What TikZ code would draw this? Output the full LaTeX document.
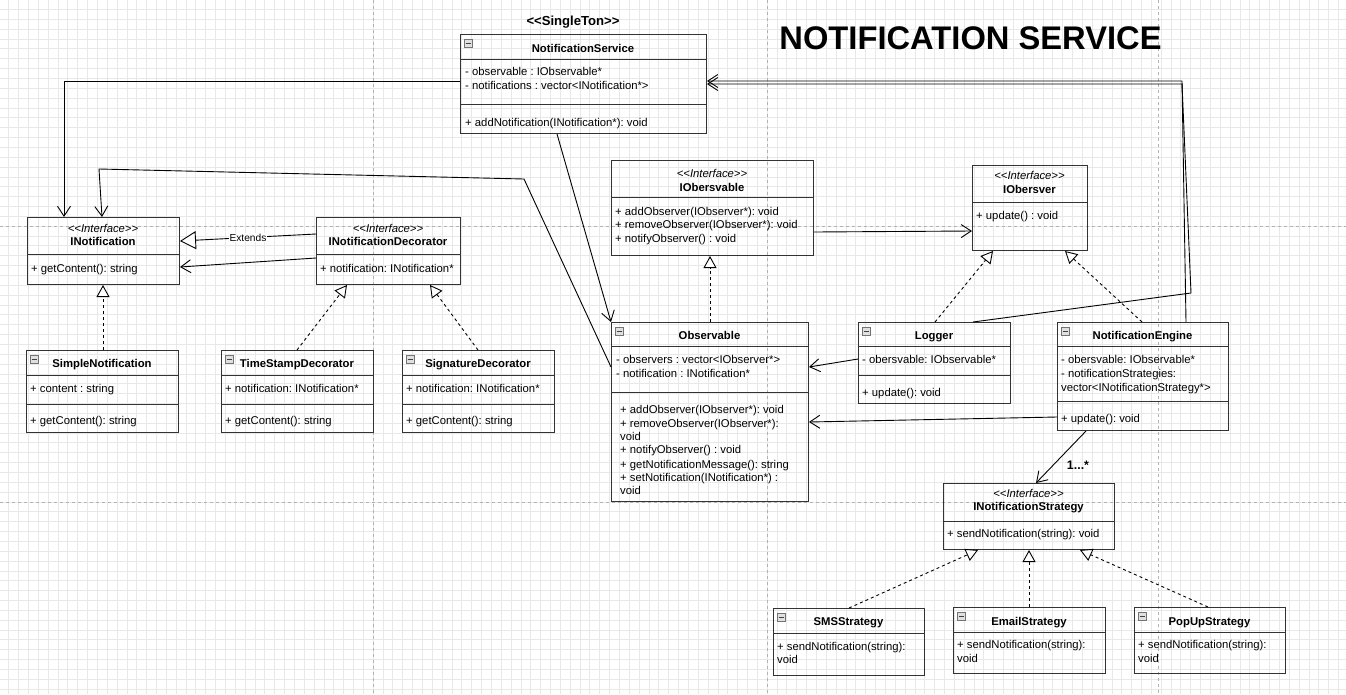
\documentclass[tikz,border=0pt]{standalone}
\usepackage{fontspec}
\setmainfont{Liberation Sans}[Ligatures=TeXOff]
\usetikzlibrary{arrows.meta,calc}
\frenchspacing
\newcommand{\uf}{\fontsize{11.3}{13.6}\selectfont}
\newcommand{\clsicon}[1]{\draw[icon] ($(#1.north west)+(4,5)$) rectangle ++(8,8); \draw[black!75,line width=0.8pt] ($(#1.north west)+(5.5,9)$) -- ++(5,0);}
\newcommand{\sepat}[2]{\draw[sepline] ($(#1.north west)+(0,#2)$) -- ($(#1.north east)+(0,#2)$);}
\begin{document}
\frenchspacing
\begin{tikzpicture}[x=1pt,y=-1pt,
  umlbox/.style={draw=black!80,line width=1pt,inner sep=0pt,anchor=north west},
  sepline/.style={draw=black!80,line width=1pt},
  txt/.style={anchor=base west,inner sep=0pt,font=\uf},
  cname/.style={anchor=base,inner sep=0pt,font=\uf\bfseries},
  stereo/.style={anchor=base,inner sep=0pt,font=\uf\itshape},
  icon/.style={draw=black!55,fill=black!12,line width=0.6pt},
  assoc/.style={draw=black,line width=0.9pt,-{Straight Barb[length=10pt,width=13pt]}},
  realize/.style={draw=black,line width=0.9pt,dash pattern=on 3pt off 3pt,-{Triangle[open,length=12pt,width=13pt,fill=white]}},
  extend/.style={draw=black,line width=0.9pt,-{Triangle[open,length=16pt,width=18pt,fill=white]}},
  gridc/.style={draw=black!9,line width=0.5pt},
  pagebr/.style={draw=black!30,line width=0.6pt,dash pattern=on 3pt off 3pt}
]
\useasboundingbox (0,0) rectangle (1346,694);
\fill[white] (0,0) rectangle (1346,694);
% background grid
\foreach \i in {0,...,135} \draw[gridc] ({8.55+9.85*\i},0) -- ({8.55+9.85*\i},694);
\foreach \j in {0,...,69} \draw[gridc] (0,{9.3+9.85*\j}) -- (1346,{9.3+9.85*\j});
\foreach \x in {373,767,1158} \draw[pagebr] (\x,0) -- (\x,694);
\foreach \y in {226,502} \draw[pagebr] (0,\y) -- (1346,\y);

% ---------- class boxes ----------
\node[umlbox,minimum width=246pt,minimum height=99pt] (ns) at (460,34) {};
\node[umlbox,minimum width=152pt,minimum height=67pt] (inot) at (27,217) {};
\node[umlbox,minimum width=144pt,minimum height=67pt] (indec) at (316,217) {};
\node[umlbox,minimum width=152pt,minimum height=82pt] (simple) at (26,350) {};
\node[umlbox,minimum width=152pt,minimum height=82pt] (ts) at (221,350) {};
\node[umlbox,minimum width=152pt,minimum height=82pt] (sig) at (402,350) {};
\node[umlbox,minimum width=202pt,minimum height=95pt] (iobs) at (611,160) {};
\node[umlbox,minimum width=115pt,minimum height=85pt] (iobr) at (972,165) {};
\node[umlbox,minimum width=197pt,minimum height=179pt] (obs) at (611,322) {};
\node[umlbox,minimum width=152pt,minimum height=81pt] (log) at (858,322) {};
\node[umlbox,minimum width=171pt,minimum height=108pt] (eng) at (1057,322) {};
\node[umlbox,minimum width=171pt,minimum height=66pt] (ist) at (943,483) {};
\node[umlbox,minimum width=151pt,minimum height=67pt] (sms) at (773,608) {};
\node[umlbox,minimum width=152pt,minimum height=66pt] (email) at (953,607) {};
\node[umlbox,minimum width=151pt,minimum height=66pt] (popup) at (1134,607) {};

% separators
\sepat{ns}{25} \sepat{ns}{70}
\sepat{inot}{37} \sepat{indec}{37}
\sepat{simple}{25} \sepat{simple}{54}
\sepat{ts}{25} \sepat{ts}{54}
\sepat{sig}{25} \sepat{sig}{54}
\sepat{iobs}{37} \sepat{iobr}{37}
\sepat{obs}{24} \sepat{obs}{70}
\sepat{log}{24} \sepat{log}{53}
\sepat{eng}{24} \sepat{eng}{79}
\sepat{ist}{38}
\sepat{sms}{25} \sepat{email}{25} \sepat{popup}{25}

% collapse icons
\clsicon{ns} \clsicon{simple} \clsicon{ts} \clsicon{sig}
\clsicon{obs} \clsicon{log} \clsicon{eng}
\clsicon{sms} \clsicon{email} \clsicon{popup}

% ---------- connectors ----------
\draw[assoc] ($(ns.north west)+(0,47)$) -| ($(inot.north west)+(37,0)$);
\draw[assoc] ($(obs.north west)+(0,45)$) -- (524,179) -- (99,169) -- ($(inot.north west)+(75,0)$);
\draw[assoc] ($(ns.south west)+(97,0)$) -- (obs.north west);
\draw[extend] ($(indec.north west)+(0,17)$) -- node[pos=0.5,fill=white,inner sep=0.6pt,font=\fontsize{10.2}{12}\selectfont] (extlbl) {Extends} ($(inot.north east)+(0,24)$);
\draw[assoc] ($(indec.north west)+(0,41)$) -- ($(inot.north east)+(0,50)$);
\draw[realize] ($(simple.north west)+(77,0)$) -- ($(inot.south west)+(76,0)$);
\draw[realize] ($(ts.north west)+(76,0)$) -- ($(indec.south west)+(31,0)$);
\draw[realize] ($(sig.north west)+(76,0)$) -- ($(indec.south west)+(114,0)$);
\draw[assoc] ($(iobs.north east)+(0,72)$) -- ($(iobr.north west)+(0,66)$);
\draw[realize] ($(obs.north west)+(99,0)$) -- ($(iobs.south west)+(99,0)$);
\draw[realize] ($(log.north west)+(77,0)$) -- ($(iobr.south west)+(21,0)$);
\draw[realize] ($(eng.north west)+(85,0)$) -- ($(iobr.south west)+(93,0)$);
\draw[assoc] ($(log.north west)+(0,37)$) -- ($(obs.north east)+(0,45)$);
\draw[assoc] ($(eng.north west)+(0,95)$) -- ($(obs.north east)+(0,100)$);
\draw[assoc] ($(log.north west)+(115,0)$) -- (1191,293) -- (1182,84) -- ($(ns.north east)+(0,50)$);
\draw[assoc] ($(eng.north west)+(129,0)$) -- (1182,81) -- ($(ns.north east)+(0,47)$);
\draw[assoc] ($(eng.south west)+(29,0)$) -- ($(ist.north west)+(93,0)$);
\node[anchor=base,inner sep=0pt,font=\fontsize{12.4}{14}\selectfont\bfseries] (mult) at (1078,469.5) {1...*};
\draw[realize] ($(sms.north west)+(76,0)$) -- ($(ist.south west)+(35,0)$);
\draw[realize] ($(email.north west)+(76,0)$) -- ($(ist.south west)+(86,0)$);
\draw[realize] ($(popup.north west)+(74,0)$) -- ($(ist.south west)+(137,0)$);

% ---------- texts ----------
\node[anchor=base,inner sep=0pt,font=\fontsize{32.7}{36}\selectfont\bfseries] (title) at (970.5,49) {NOTIFICATION SERVICE};
\node[anchor=base,inner sep=0pt,font=\fontsize{13.1}{15}\selectfont\bfseries] (single) at (573,25.5) {<<SingleTon>>};

\node[cname] (nsn) at (583,52) {NotificationService};
\node[txt] (nsa1) at (465,75) {- observable : IObservable*};
\node[txt] (nsa2) at (465,89) {- notifications : vector<INotification*>};
\node[txt] (nsm1) at (465,126) {+ addNotification(INotification*): void};

\node[stereo] (inots) at (103,232) {<<Interface>>};
\node[cname] (inotn) at (103,245) {INotification};
\node[txt] (inotm) at (31,272) {+ getContent(): string};

\node[stereo] (indecs) at (388,232) {<<Interface>>};
\node[cname] (indecn) at (388,245) {INotificationDecorator};
\node[txt] (indecm) at (320,272) {+ notification: INotification*};

\node[cname] (simplen) at (102,367) {SimpleNotification};
\node[txt] (simplea) at (30,392) {+ content : string};
\node[txt] (simplem) at (30,424) {+ getContent(): string};

\node[cname] (tsn) at (297,367) {TimeStampDecorator};
\node[txt] (tsa) at (225,392) {+ notification: INotification*};
\node[txt] (tsm) at (225,424) {+ getContent(): string};

\node[cname] (sign) at (478,367) {SignatureDecorator};
\node[txt] (siga) at (406,392) {+ notification: INotification*};
\node[txt] (sigm) at (406,424) {+ getContent(): string};

\node[stereo] (iobss) at (712,177) {<<Interface>>};
\node[cname] (iobsn) at (712,191.5) {IObersvable};
\node[txt] (iobsm1) at (615,215) {+ addObserver(IObserver*): void};
\node[txt] (iobsm2) at (615,228) {+ removeObserver(IObserver*): void};
\node[txt] (iobsm3) at (615,242) {+ notifyObserver() : void};

\node[stereo] (iobrs) at (1029.5,179) {<<Interface>>};
\node[cname] (iobrn) at (1029.5,193) {IObersver};
\node[txt] (iobrm) at (976,219) {+ update() : void};

\node[cname] (obsn) at (709.5,339) {Observable};
\node[txt] (obsa1) at (616,363.5) {- observers : vector<IObserver*>};
\node[txt] (obsa2) at (616,377) {- notification : INotification*};
\node[txt] (obsm1) at (620,413) {+ addObserver(IObserver*): void};
\node[txt] (obsm2) at (620,427) {+ removeObserver(IObserver*):};
\node[txt] (obsm3) at (620,440) {void};
\node[txt] (obsm4) at (620,453.5) {+ notifyObserver() : void};
\node[txt] (obsm5) at (620,468) {+ getNotificationMessage(): string};
\node[txt] (obsm6) at (620,481) {+ setNotification(INotification*) :};
\node[txt] (obsm7) at (620,494.5) {void};

\node[cname] (logn) at (934,339) {Logger};
\node[txt] (loga) at (862,363.5) {- obersvable: IObservable*};
\node[txt] (logm) at (862,396) {+ update(): void};

\node[cname] (engn) at (1142.5,339) {NotificationEngine};
\node[txt] (enga1) at (1061,363) {- obersvable: IObservable*};
\node[txt] (enga2) at (1061,377) {- notificationStrategies:};
\node[txt] (enga3) at (1061,391) {vector<INotificationStrategy*>};
\node[txt] (engm) at (1061,422) {+ update(): void};

\node[stereo] (ists) at (1028.5,497) {<<Interface>>};
\node[cname] (istn) at (1028.5,510.5) {INotificationStrategy};
\node[txt] (istm) at (947,537) {+ sendNotification(string): void};

\node[cname] (smsn) at (848.5,625.5) {SMSStrategy};
\node[txt] (smsm1) at (777,650.5) {+ sendNotification(string):};
\node[txt] (smsm2) at (777,663.5) {void};

\node[cname] (emailn) at (1029,625) {EmailStrategy};
\node[txt] (emailm1) at (957,648.5) {+ sendNotification(string):};
\node[txt] (emailm2) at (957,662) {void};

\node[cname] (popupn) at (1209.5,625) {PopUpStrategy};
\node[txt] (popupm1) at (1138,648.5) {+ sendNotification(string):};
\node[txt] (popupm2) at (1138,662) {void};
\end{tikzpicture}
\end{document}
